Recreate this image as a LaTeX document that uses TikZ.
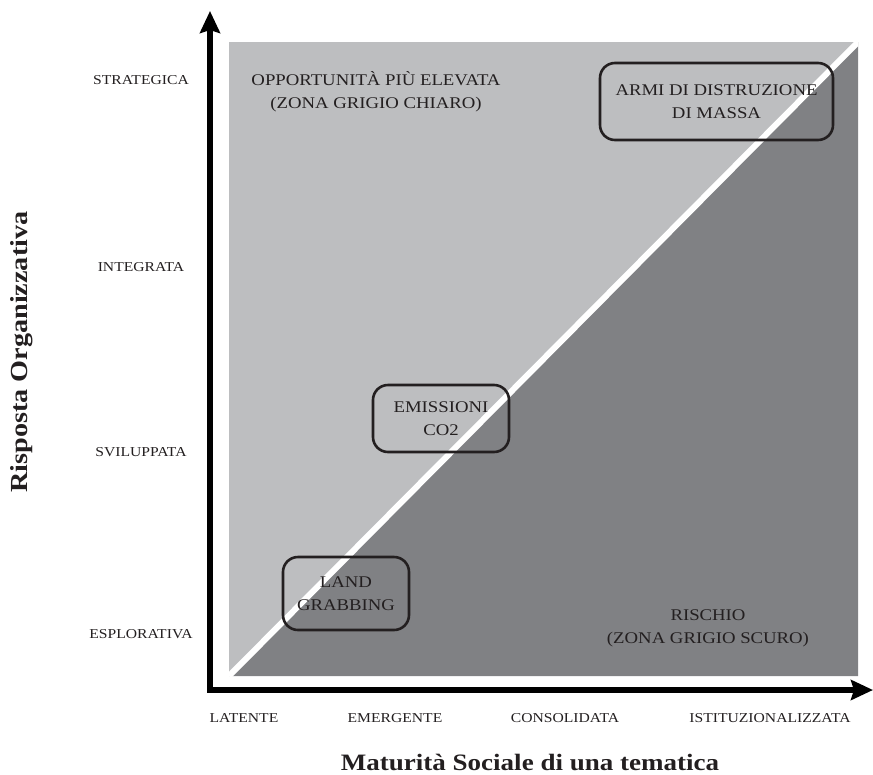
\documentclass[tikz,border=0pt]{standalone}
\usepackage{fontspec}
\setmainfont{Liberation Serif}[FakeStretch=1.15]
\usetikzlibrary{arrows.meta}
\definecolor{lightzone}{RGB}{189,190,192}
\definecolor{darkzone}{RGB}{128,129,132}
\definecolor{ink}{RGB}{35,31,32}
\tikzset{
  ticklbl/.style={font=\fontsize{13.6}{16}\selectfont, text=ink, inner sep=0pt},
  zonelbl/.style={font=\fontsize{16.3}{23}\selectfont, text=ink, align=center, inner sep=0pt},
  casebox/.style={draw=ink, line width=2.6pt, rounded corners=15pt, font=\fontsize{16.3}{23}\selectfont, text=ink, align=center, inner sep=0pt},
  axistitle/.style={font=\bfseries, text=ink, inner sep=0pt},
  axisline/.style={line width=6pt, draw=black, line join=miter, {Stealth[length=22pt,width=20pt,inset=3pt]}-{Stealth[length=22pt,width=20pt,inset=3pt]}}
}
\begin{document}
\begin{tikzpicture}[x=1pt,y=-1pt]
\useasboundingbox (0,0) rectangle (873,774);
% zones
\coordinate (BL) at (229,676);
\coordinate (TR) at (858,42);
\coordinate (BR) at (858,676);
\coordinate (TL) at (229,42);
\fill[lightzone] (TL) rectangle (BR);
\fill[darkzone] (BL) -- (BR) -- (TR) -- cycle;
\begin{scope}
\clip (TL) rectangle (BR);
\draw[white, line width=6pt] (BL) -- (TR);
\end{scope}
% axes
\coordinate (O) at (210,690);
\coordinate (ytop) at (210,11);
\coordinate (xend) at (873,690);
\draw[axisline] (ytop) -- (O) -- (xend);
% y tick labels
\node[ticklbl] (s1) at (141,80) {STRATEGICA};
\node[ticklbl] (s2) at (141,267) {INTEGRATA};
\node[ticklbl] (s3) at (141,452) {SVILUPPATA};
\node[ticklbl] (s4) at (141,634) {ESPLORATIVA};
% x tick labels
\node[ticklbl] (m1) at (244,718) {LATENTE};
\node[ticklbl] (m2) at (395,718) {EMERGENTE};
\node[ticklbl] (m3) at (565,718) {CONSOLIDATA};
\node[ticklbl] (m4) at (770,718) {ISTITUZIONALIZZATA};
% axis titles
\node[axistitle, font=\bfseries\fontsize{23.5}{27}\selectfont] (xt) at (530,762) {Maturità Sociale di una tematica};
\node[axistitle, font=\bfseries\fontsize{24.5}{28}\selectfont, rotate=90] (yt) at (22,352) {Risposta Organizzativa};
% zone labels
\node[zonelbl] (opp) at (376,92) {OPPORTUNITÀ PIÙ ELEVATA\\(ZONA GRIGIO CHIARO)};
\node[zonelbl] (risk) at (708,628) {RISCHIO\\(ZONA GRIGIO SCURO)};
% case boxes
\node[casebox, minimum width=233pt, minimum height=77pt] (armi) at (716.5,101.5) {ARMI DI DISTRUZIONE\\DI MASSA};
\node[casebox, minimum width=136pt, minimum height=67pt] (co2) at (441,418.5) {EMISSIONI\\CO2};
\node[casebox, minimum width=126pt, minimum height=73pt] (land) at (346,593.5) {LAND\\GRABBING};
\end{tikzpicture}
\end{document}
